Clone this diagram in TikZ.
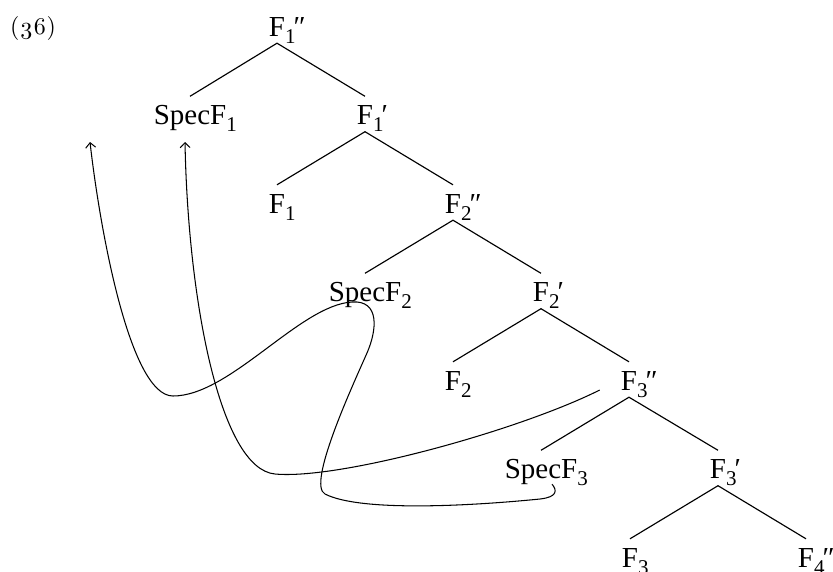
\documentclass[tikz,border=0pt]{standalone}
\usepackage{fontspec}
\usetikzlibrary{arrows.meta}
\setmainfont{Liberation Serif}
\newfontfamily\osf{lmroman10-regular.otf}[Numbers=OldStyle]
\newcommand\subs[1]{\raisebox{-7pt}{\fontsize{21}{21}\selectfont #1}}
\begin{document}
\begin{tikzpicture}[x=1pt,y=-1pt,
  tn/.style={inner sep=0pt, text height=28pt, text depth=7pt, anchor=base,
             font=\fontsize{29}{34}\selectfont},
  branch/.style={line width=1.15pt},
  curve/.style={line width=1.05pt, -{Straight Barb[length=5pt,width=10pt,line width=1pt]}}]
\useasboundingbox (0,0) rectangle (833,571);
\node[anchor=base west, inner sep=0pt, font=\osf\fontsize{24}{28}\selectfont] (ex) at (10,34) {(36)};
% tree
\node[tn] (f1pp)  at (277,36)    {F\rlap{\subs{1}\kern-2pt″}};
\node[tn] (spec1) at (190,124.5) {SpecF\rlap{\subs{1}}};
\node[tn] (f1p)   at (365,124.5) {F\rlap{\subs{1}\kern-2pt′}};
\node[tn] (f1)    at (277,213)   {F\rlap{\subs{1}}};
\node[tn] (f2pp)  at (453,213)   {F\rlap{\subs{2}\kern-2pt″}};
\node[tn] (spec2) at (365,301.5) {SpecF\rlap{\subs{2}}};
\node[tn] (f2p)   at (541,301.5) {F\rlap{\subs{2}\kern-2pt′}};
\node[tn] (f2)    at (453,390)   {F\rlap{\subs{2}}};
\node[tn] (f3pp)  at (629,390)   {F\rlap{\subs{3}\kern-2pt″}};
\node[tn] (spec3) at (541,478.5) {SpecF\rlap{\subs{3}}};
\node[tn] (f3p)   at (718,478.5) {F\rlap{\subs{3}\kern-2pt′}};
\node[tn] (f3)    at (630,567)   {F\rlap{\subs{3}}};
\node[tn] (f4pp)  at (806,567)   {F\rlap{\subs{4}\kern-2pt″}};
\draw[branch] (spec1.north) -- (f1pp.south) -- (f1p.north);
\draw[branch] (f1.north) -- (f1p.south) -- (f2pp.north);
\draw[branch] (spec2.north) -- (f2pp.south) -- (f2p.north);
\draw[branch] (f2.north) -- (f2p.south) -- (f3pp.north);
\draw[branch] (spec3.north) -- (f3pp.south) -- (f3p.north);
\draw[branch] (f3.north) -- (f3p.south) -- (f4pp.north);
% movement arrows
\coordinate (tipA) at (90,142);
\coordinate (tipB) at (185,142);
\draw[curve] ([xshift=11pt,yshift=1.5pt]spec3.south)
  .. controls (557,490) and (558,497) .. (540,499)
  .. controls (470,506) and (360,512) .. (325,494)
  .. controls (307,485) and (351,389) .. (367,353)
  .. controls (377,330) and (380,300) .. (352,302)
  .. controls (300,305) and (230,396) .. (173,396)
  .. controls (130,396) and (100,230) .. (tipA);
\draw[curve] ([xshift=-21pt]f3pp.base west)
  .. controls (520,430) and (340,480) .. (275,474)
  .. controls (220,469) and (188,300) .. (tipB);
\end{tikzpicture}
\end{document}
